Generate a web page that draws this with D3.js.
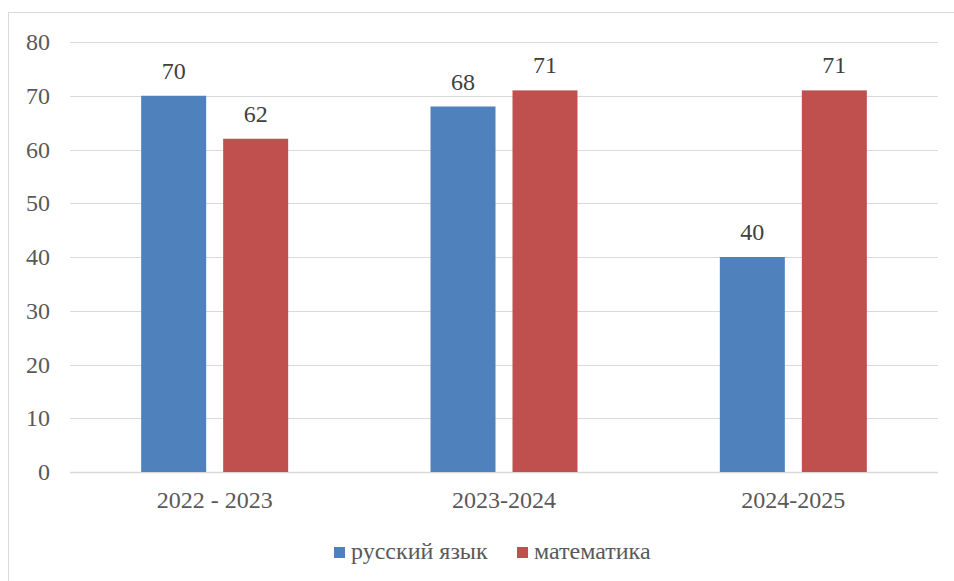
<!DOCTYPE html>
<html>
<head>
<meta charset="utf-8">
<script src="https://cdn.jsdelivr.net/npm/d3@7"></script>
<style>
  body { margin: 0; background: #fff; }
</style>
</head>
<body>
<script>
var years = ["2022 - 2023", "2023-2024", "2024-2025"];
var series = ["русский язык", "математика"];
var russian = [70, 68, 40];
var math = [62, 71, 71];
var yTicks = [0, 10, 20, 30, 40, 50, 60, 70, 80];
var colors = ["#4F81BD", "#C0504D"];

var width = 954,
    height = 581;

var svg = d3.select("body")
    .append("svg")
    .attr("width", width)
    .attr("height", height)
    .style("font-family", "'Liberation Serif', 'DejaVu Serif', 'Times New Roman', serif")
    .attr("fill", "#595959");

// chart frame
svg.append("rect")
    .attr("x", 8.5)
    .attr("y", 12.5)
    .attr("width", 960)
    .attr("height", 600)
    .attr("fill", "none")
    .attr("stroke", "#D9D9D9");

var x0 = d3.scaleBand()
    .domain(years)
    .range([70, 938]);

var x1 = d3.scaleBand()
    .domain(series)
    .range([-73.5, 73.5])
    .paddingInner(17 / 82);

var y = d3.scaleLinear()
    .domain([0, 80])
    .range([472, 42]);

// gridlines
svg.append("g")
    .selectAll("line")
    .data(yTicks)
    .enter()
    .append("line")
    .attr("x1", 70)
    .attr("x2", 938)
    .attr("y1", d => Math.round(y(d)) + 0.5)
    .attr("y2", d => Math.round(y(d)) + 0.5)
    .attr("stroke", "#D9D9D9")
    .attr("stroke-width", d => d === 0 ? 1.5 : 1);

// y tick labels
svg.append("g")
    .selectAll("text")
    .data(yTicks)
    .enter()
    .append("text")
    .attr("x", 50)
    .attr("y", d => y(d) + 8)
    .attr("text-anchor", "end")
    .style("font-size", "24px")
    .attr("fill", "#595959")
    .text(d => d);

var rows = [];
years.forEach(function(yr, i) {
    rows.push({year: yr, key: series[0], value: russian[i], color: colors[0]});
    rows.push({year: yr, key: series[1], value: math[i], color: colors[1]});
});

svg.append("g")
    .selectAll("rect")
    .data(rows)
    .enter()
    .append("rect")
    .attr("x", d => x0(d.year) + x0.bandwidth() / 2 + x1(d.key))
    .attr("y", d => y(d.value))
    .attr("width", x1.bandwidth())
    .attr("height", d => y(0) - y(d.value))
    .attr("fill", d => d.color);

// value labels
svg.append("g")
    .selectAll("text")
    .data(rows)
    .enter()
    .append("text")
    .attr("x", d => x0(d.year) + x0.bandwidth() / 2 + x1(d.key) + x1.bandwidth() / 2)
    .attr("y", d => y(d.value) - 17)
    .attr("text-anchor", "middle")
    .style("font-size", "24px")
    .attr("fill", "#404040")
    .text(d => d.value);

// category labels
svg.append("g")
    .selectAll("text")
    .data(years)
    .enter()
    .append("text")
    .attr("x", d => x0(d) + x0.bandwidth() / 2)
    .attr("y", 508)
    .attr("text-anchor", "middle")
    .style("font-size", "24px")
    .attr("fill", "#595959")
    .text(d => d);

// legend
var legendX = [334, 517];
var legend = svg.append("g")
    .selectAll("g")
    .data(series)
    .enter()
    .append("g")
    .attr("transform", (d, i) => "translate(" + legendX[i] + ",547)");

legend.append("rect")
    .attr("width", 11)
    .attr("height", 11)
    .attr("fill", (d, i) => colors[i]);

legend.append("text")
    .attr("x", 17)
    .attr("y", 12)
    .style("font-size", "24px")
    .attr("fill", "#595959")
    .text(d => d);
</script>
</body>
</html>
